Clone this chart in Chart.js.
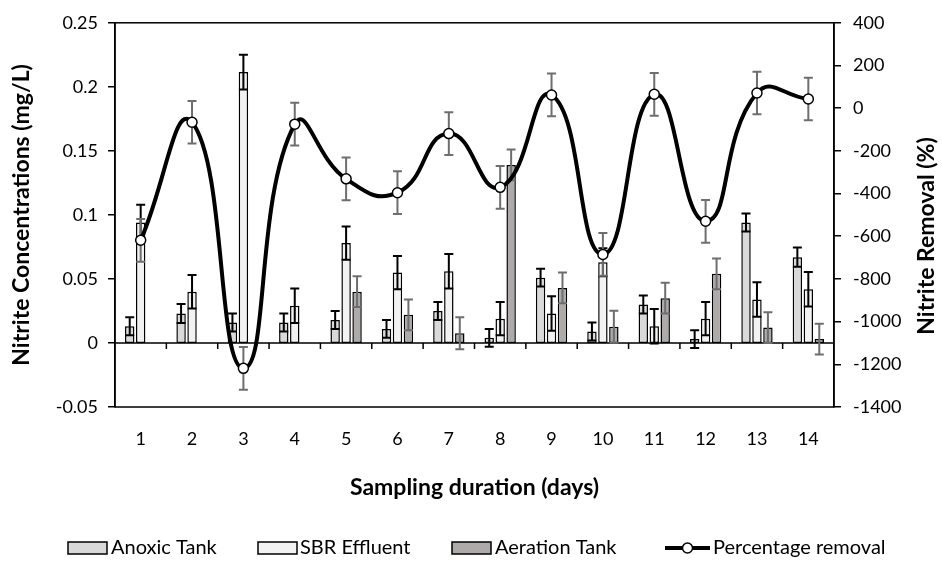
<!DOCTYPE html>
<html>
<head>
<meta charset="utf-8">
<script src="https://cdn.jsdelivr.net/npm/chart.js@4"></script>
<style>
  body { margin: 0; background: #fff; }
  .wrap { width: 942px; height: 575px; position: relative; }
</style>
</head>
<body>
<div class="wrap"><canvas id="chart"></canvas></div>
<script>
const days = ['1', '2', '3', '4', '5', '6', '7', '8', '9', '10', '11', '12', '13', '14'];

const anoxic = [0.013, 0.023, 0.016, 0.016, 0.018, 0.011, 0.025, 0.004, 0.051, 0.009, 0.030, 0.003, 0.094, 0.067];
const anoxicErr = [0.007, 0.0075, 0.007, 0.007, 0.007, 0.007, 0.007, 0.007, 0.007, 0.007, 0.007, 0.007, 0.007, 0.0075];

const sbr = [0.094, 0.040, 0.2115, 0.029, 0.078, 0.055, 0.056, 0.019, 0.023, 0.063, 0.013, 0.019, 0.034, 0.042];
const sbrErr = [0.014, 0.013, 0.0135, 0.0135, 0.013, 0.013, 0.0135, 0.013, 0.0135, 0.011, 0.0135, 0.013, 0.0135, 0.0135];

const aeration = [null, null, null, null, 0.040, 0.022, 0.0075, 0.139, 0.043, 0.0127, 0.035, 0.054, 0.012, 0.003];
const aerationErr = [0, 0, 0, 0, 0.012, 0.012, 0.0125, 0.012, 0.012, 0.0125, 0.012, 0.012, 0.012, 0.012];

const removal = [-619, -66, -1219, -75, -331, -396, -119, -371, 62, -685, 65, -530, 71, 43];
const removalErr = [100, 100, 100, 100, 100, 100, 100, 100, 100, 100, 100, 100, 100, 100];

const leftTicks = { min: -0.05, max: 0.25, step: 0.05 };
const rightTicks = { min: -1400, max: 400, step: 200 };

const FONT = 'Lato, "Open Sans", sans-serif';

function drawErr(ctx, px, scale, v, e, color) {
    const top = scale.getPixelForValue(v + e);
    const bot = scale.getPixelForValue(v - e);
    ctx.strokeStyle = color;
    ctx.lineWidth = 2;
    ctx.beginPath();
    ctx.moveTo(px, top); ctx.lineTo(px, bot);
    ctx.moveTo(px - 4.5, top); ctx.lineTo(px + 4.5, top);
    ctx.moveTo(px - 4.5, bot); ctx.lineTo(px + 4.5, bot);
    ctx.stroke();
}

const extras = {
    id: 'extras',
    beforeDatasetsDraw(chart) {
        const { ctx, chartArea: a, scales } = chart;
        const y0 = scales.y.getPixelForValue(0);
        ctx.save();
        ctx.strokeStyle = '#000';
        ctx.lineWidth = 1.5;
        ctx.strokeRect(a.left, a.top, a.right - a.left, a.bottom - a.top);
        ctx.beginPath();
        ctx.moveTo(a.left, y0);
        ctx.lineTo(a.right, y0);
        for (let i = 1; i < days.length; i++) {
            const px = (scales.x.getPixelForValue(i - 1) + scales.x.getPixelForValue(i)) / 2;
            ctx.moveTo(px, y0);
            ctx.lineTo(px, y0 + 6);
        }
        ctx.stroke();
        ctx.restore();
    },
    beforeDatasetDraw(chart, args) {
        const ds = chart.data.datasets[args.index];
        if (ds.type !== 'line') return;
        const ctx = chart.ctx;
        const scale = chart.scales[ds.yAxisID];
        ctx.save();
        args.meta.data.forEach((pt, i) => {
            drawErr(ctx, pt.x, scale, ds.data[i], ds.errors[i], ds.errorColor);
        });
        ctx.restore();
    },
    afterDatasetDraw(chart, args) {
        const ds = chart.data.datasets[args.index];
        if (ds.type !== 'bar') return;
        const ctx = chart.ctx;
        const scale = chart.scales[ds.yAxisID];
        ctx.save();
        args.meta.data.forEach((bar, i) => {
            if (ds.data[i] === null) return;
            drawErr(ctx, bar.x, scale, ds.data[i], ds.errors[i], ds.errorColor);
        });
        ctx.restore();
    },
    afterDraw(chart) {
        const ctx = chart.ctx;
        const a = chart.chartArea;
        ctx.save();
        ctx.fillStyle = '#000';
        ctx.textAlign = 'center';
        ctx.textBaseline = 'middle';
        ctx.font = 'bold 23px ' + FONT;
        ctx.fillText('Sampling duration (days)', (a.left + a.right) / 2, 488);

        ctx.save();
        ctx.translate(22, (a.top + a.bottom) / 2);
        ctx.rotate(-Math.PI / 2);
        ctx.fillText('Nitrite Concentrations (mg/L)', 0, 0);
        ctx.restore();

        ctx.save();
        ctx.translate(927, 236);
        ctx.rotate(-Math.PI / 2);
        ctx.fillText('Nitrite Removal (%)', 0, 0);
        ctx.restore();

        // legend
        const ly = 548;
        ctx.font = '20px ' + FONT;
        ctx.textAlign = 'left';
        const boxes = [
            { x: 68, tx: 111, fill: '#d9d9d9', label: 'Anoxic Tank' },
            { x: 258, tx: 300, fill: '#f2f2f2', label: 'SBR Effluent' },
            { x: 452, tx: 495, fill: '#aeaaaa', label: 'Aeration Tank' }
        ];
        ctx.lineWidth = 1.5;
        ctx.strokeStyle = '#000';
        boxes.forEach(b => {
            ctx.fillStyle = b.fill;
            ctx.fillRect(b.x, ly - 6, 39, 12);
            ctx.strokeRect(b.x, ly - 6, 39, 12);
            ctx.fillStyle = '#000';
            ctx.fillText(b.label, b.tx, ly);
        });
        ctx.lineWidth = 4;
        ctx.beginPath();
        ctx.moveTo(665, ly);
        ctx.lineTo(710, ly);
        ctx.stroke();
        ctx.beginPath();
        ctx.arc(687.5, ly, 5, 0, Math.PI * 2);
        ctx.fillStyle = '#fff';
        ctx.fill();
        ctx.lineWidth = 1.5;
        ctx.stroke();
        ctx.fillStyle = '#000';
        ctx.fillText('Percentage removal', 713, ly);
        ctx.restore();
    }
};

const barCommon = {
    type: 'bar',
    yAxisID: 'y',
    borderColor: '#000',
    borderWidth: 1.5,
    borderSkipped: false,
    categoryPercentage: 0.64,
    barPercentage: 0.86,
    order: 1
};

new Chart(document.getElementById('chart'), {
    data: {
        labels: days,
        datasets: [
            { ...barCommon, label: 'Anoxic Tank', data: anoxic, backgroundColor: '#d9d9d9', errors: anoxicErr, errorColor: '#000' },
            { ...barCommon, label: 'SBR Effluent', data: sbr, backgroundColor: '#f2f2f2', errors: sbrErr, errorColor: '#000' },
            { ...barCommon, label: 'Aeration Tank', data: aeration, backgroundColor: '#aeaaaa', errors: aerationErr, errorColor: '#6e6e6e' },
            {
                type: 'line',
                label: 'Percentage removal',
                yAxisID: 'y1',
                data: removal,
                errors: removalErr,
                errorColor: '#6e6e6e',
                borderColor: '#000',
                borderWidth: 4,
                tension: 0.5,
                pointRadius: 5,
                pointBackgroundColor: '#fff',
                pointBorderColor: '#000',
                pointBorderWidth: 1.5,
                order: 0
            }
        ]
    },
    options: {
        responsive: true,
        maintainAspectRatio: false,
        animation: false,
        layout: { padding: { top: 22 } },
        plugins: {
            legend: { display: false },
            tooltip: { enabled: false }
        },
        scales: {
            x: {
                offset: true,
                grid: { display: false, drawTicks: false },
                border: { display: false },
                ticks: { color: '#000', font: { family: FONT, size: 18 }, padding: 21 },
                afterFit: s => { s.height = 168; }
            },
            y: {
                position: 'left',
                min: leftTicks.min,
                max: leftTicks.max,
                grid: { drawOnChartArea: false, drawTicks: true, tickLength: 7, tickColor: '#000', lineWidth: 1.5 },
                border: { display: true, color: '#000', width: 1.5 },
                ticks: {
                    stepSize: leftTicks.step,
                    color: '#000',
                    padding: 10,
                    font: { family: FONT, size: 18 },
                    callback: v => String(+v.toFixed(2))
                },
                afterFit: s => { s.width = 115; }
            },
            y1: {
                position: 'right',
                min: rightTicks.min,
                max: rightTicks.max,
                grid: { drawOnChartArea: false, drawTicks: true, tickLength: 7, tickColor: '#000', lineWidth: 1.5 },
                border: { display: true, color: '#000', width: 1.5 },
                ticks: {
                    stepSize: rightTicks.step,
                    color: '#000',
                    padding: 12,
                    font: { family: FONT, size: 18 },
                    callback: v => String(v)
                },
                afterFit: s => { s.width = 108; }
            }
        }
    },
    plugins: [extras]
});
</script>
</body>
</html>
